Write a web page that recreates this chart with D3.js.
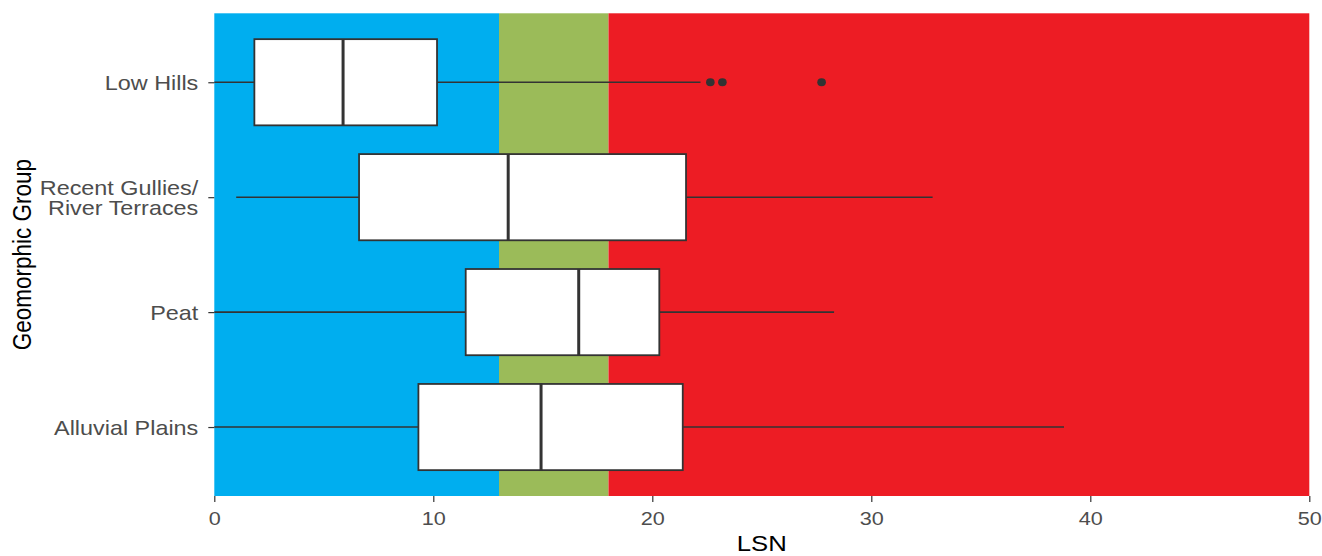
<!DOCTYPE html>
<html>
<head>
<meta charset="utf-8">
<script src="https://cdn.jsdelivr.net/npm/d3@7/dist/d3.min.js"></script>
<style>
  html, body { margin: 0; padding: 0; background: #fff; }
  svg { display: block; }
</style>
</head>
<body>
<svg id="chart" width="1322" height="556"></svg>
<script>
// Geomorphic groups, top to bottom
const categories = ["Low Hills", "Recent Gullies/\nRiver Terraces", "Peat", "Alluvial Plains"];
// Box-plot statistics of LSN per group
const whiskerLow  = [0.0, 1.0, 0.0, 0.0];
const q1          = [1.83, 6.61, 11.48, 9.32];
const median      = [5.88, 13.42, 16.64, 14.92];
const q3          = [10.17, 21.54, 20.32, 21.39];
const whiskerHigh = [22.2, 32.8, 28.3, 38.8];
// Outlying observations (group index, value)
const outlierGroup = [0, 0, 0];
const outlierValue = [22.65, 23.2, 27.73];
// Background LSN classes
const bandStart = [0, 13, 18];
const bandEnd   = [13, 18, 50];
const bandColor = ["#00AEEF", "#9BBB59", "#ED1C24"];
// Axis ticks
const xTicks = [0, 10, 20, 30, 40, 50];

const sx = 1.17;              // horizontal text stretch
const plot = { left: 214.3, right: 1309.3, top: 13.3, bottom: 496 };
const svg = d3.select("#chart");
const font = "'Liberation Sans', Arial, sans-serif";

const x = d3.scaleLinear().domain([0, 50]).range([plot.left, plot.right]);
const y = d3.scalePoint().domain(categories).range([plot.top, plot.bottom]).padding(0.6);
const boxH = y.step() * 0.75;

// class bands
svg.append("g").selectAll("rect").data(bandStart).join("rect")
  .attr("x", (d) => x(d))
  .attr("width", (d, i) => x(bandEnd[i]) - x(d))
  .attr("y", plot.top)
  .attr("height", plot.bottom - plot.top)
  .attr("fill", (d, i) => bandColor[i]);

const stroke = "#333333";
const boxes = svg.append("g");
categories.forEach((c, i) => {
  const cy = y(c);
  // whiskers
  boxes.append("line").attr("x1", x(whiskerLow[i])).attr("x2", x(q1[i]))
    .attr("y1", cy).attr("y2", cy).attr("stroke", stroke).attr("stroke-width", 1.6);
  boxes.append("line").attr("x1", x(q3[i])).attr("x2", x(whiskerHigh[i]))
    .attr("y1", cy).attr("y2", cy).attr("stroke", stroke).attr("stroke-width", 1.6);
  // box
  boxes.append("rect").attr("x", x(q1[i])).attr("width", x(q3[i]) - x(q1[i]))
    .attr("y", cy - boxH / 2).attr("height", boxH)
    .attr("fill", "#ffffff").attr("stroke", stroke).attr("stroke-width", 1.8);
  // median
  boxes.append("line").attr("x1", x(median[i])).attr("x2", x(median[i]))
    .attr("y1", cy - boxH / 2).attr("y2", cy + boxH / 2)
    .attr("stroke", stroke).attr("stroke-width", 3);
});

// outliers
svg.append("g").selectAll("ellipse").data(outlierValue).join("ellipse")
  .attr("cx", (d) => x(d))
  .attr("cy", (d, i) => y(categories[outlierGroup[i]]))
  .attr("rx", 4.3).attr("ry", 3.9)
  .attr("fill", stroke);

// x axis
const xAxis = svg.append("g")
  .attr("transform", `translate(0,${plot.bottom})`)
  .call(d3.axisBottom(x).tickValues(xTicks).tickSize(6).tickPadding(10).tickFormat(d3.format("d")));
xAxis.select(".domain").remove();
xAxis.selectAll(".tick line").attr("stroke", stroke).attr("stroke-width", 1.2);
xAxis.selectAll(".tick text")
  .attr("fill", "#4D4D4D").attr("font-family", font).attr("font-size", 18.5)
  .attr("transform", `scale(${sx},1)`);

// y axis
const yAxis = svg.append("g")
  .attr("transform", `translate(${plot.left},0)`)
  .call(d3.axisLeft(y).tickSize(6).tickFormat(""));
yAxis.select(".domain").remove();
yAxis.selectAll(".tick line").attr("stroke", stroke).attr("stroke-width", 1.2);
yAxis.selectAll(".tick").each(function (d) {
  const lines = d.split("\n");
  const t = d3.select(this).append("text")
    .attr("transform", `translate(-16,0) scale(${sx},1)`)
    .attr("text-anchor", "end")
    .attr("fill", "#4D4D4D").attr("font-family", font).attr("font-size", 20);
  const lh = 20.5;
  const first = 7.5 - (lines.length - 1) * lh / 2;
  lines.forEach((ln, k) => {
    t.append("tspan").attr("x", 0).attr("y", first + k * lh).text(ln);
  });
});

// axis titles
svg.append("text")
  .attr("transform", `translate(${(plot.left + plot.right) / 2},551) scale(${sx},1)`)
  .attr("text-anchor", "middle")
  .attr("font-family", font).attr("font-size", 22).attr("fill", "#000")
  .text("LSN");
svg.append("text")
  .attr("transform", `translate(31,${(plot.top + plot.bottom) / 2}) scale(${sx},1) rotate(-90)`)
  .attr("text-anchor", "middle")
  .attr("font-family", font).attr("font-size", 22.5).attr("fill", "#000")
  .text("Geomorphic Group");
</script>
</body>
</html>
